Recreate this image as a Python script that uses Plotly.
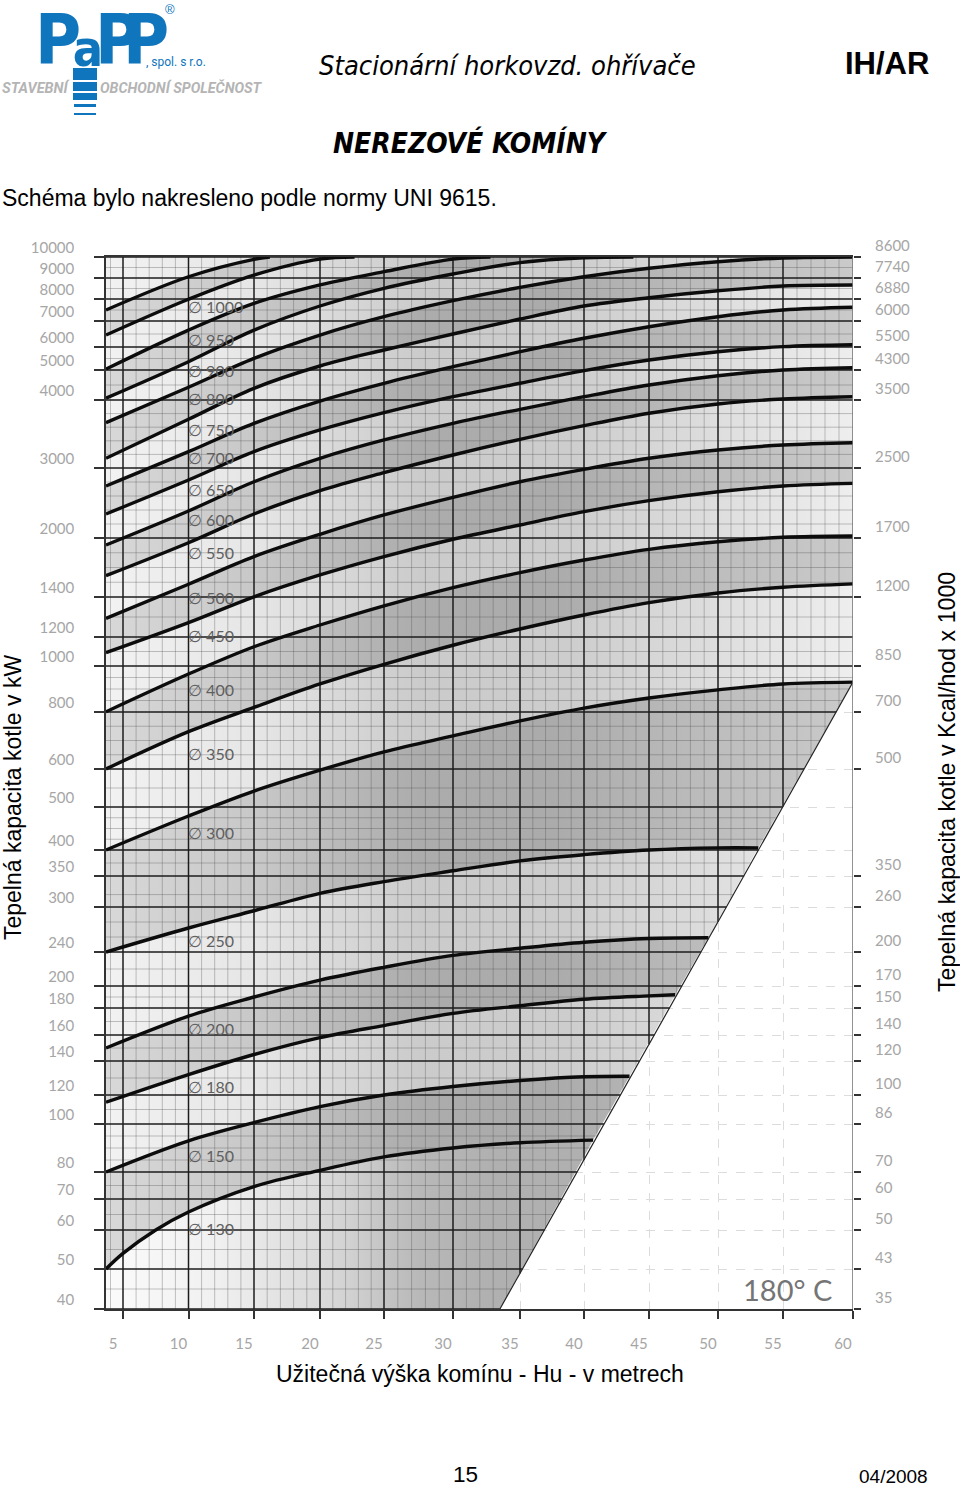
import numpy as np
import plotly.graph_objects as go

# ---------- scales printed on the nomogram ----------
scale_kw = [40, 50, 60, 70, 80, 100, 120, 140, 160, 180, 200, 240, 300, 350, 400, 500, 600, 800,
            1000, 1200, 1400, 2000, 3000, 4000, 5000, 6000, 7000, 8000, 9000, 10000]
# the printed kW ladder is not a uniform log scale: height of every rung on the sheet
scale_height = [0, 40, 79, 110, 137, 185, 214, 248, 274, 301, 323, 357, 402, 433, 459, 502, 540, 597,
                643, 672, 712, 771, 841, 909, 939, 962, 988, 1010, 1031, 1052]
right_equiv_kw = [40, 50, 60, 70, 80, 100, 120, 140, 160, 180, 200, 240, 300, 350, 600, 800, 1000,
                  1400, 2000, 3000, 4000, 5000, 6000, 7000, 8000, 9000, 10000]
right_labels = [35, 43, 50, 60, 70, 86, 100, 120, 140, 150, 170, 200, 260, 350, 500, 700, 850,
                1200, 1700, 2500, 3500, 4300, 5500, 6000, 6880, 7740, 8600]
minor_kw = [45, 55, 65, 75, 85, 90, 95, 110, 130, 150, 170, 190, 220, 260, 280, 320, 375, 425, 450, 475,
            550, 650, 700, 750, 850, 900, 950, 1100, 1300, 1550, 1700, 1850, 2200, 2400, 2600, 2800,
            3200, 3400, 3600, 3800, 4500, 5500, 6500, 7500, 8500, 9500]
x_left = 3.64
x_right = 60
# horizontal ladder of the sheet (metres and width of the rung on the sheet)
scale_m = [x_left, 5, 10, 15, 20, 25, 30, 35, 40, 45, 50, 55, 60]
scale_width = [0, 17, 82.5, 148, 214, 278, 347, 414, 478, 543, 612, 677, 747]
x_ticks = scale_m[1:]

# ---------- curves: height (m) / capacity (kW) ----------
cols = [x_left, 10, 15, 20, 25, 30, 35, 40, 45, 50, 55, 60]
c_top = ([x_left, 10, 15, 16.2], [7500, 9060, 9890, 10000])
c_1000 = ([x_left, 10, 15, 20, 22.7], [6460, 7990, 9140, 9900, 10000])
c_950 = ([x_left, 10, 15, 20, 25, 30, 32.8], [5040, 6650, 7800, 8670, 9300, 9900, 10000])
c_900 = ([x_left, 10, 15, 20, 25, 30, 35, 40, 43.8], [4060, 5360, 6650, 7682, 8510, 9190, 9730, 9960, 10000])
c_800 = (cols, [3666, 4423, 5508, 6461, 7196, 7923, 8557, 9062, 9462, 9776, 9952, 10000])
c_750 = (cols, [3143, 3716, 4390, 5174, 5870, 6500, 7090, 7680, 8060, 8390, 8620, 8670])
c_700 = (cols, [2743, 3240, 3657, 3985, 4557, 5143, 5796, 6335, 6780, 7196, 7500, 7622])
c_650 = (cols, [2343, 2829, 3240, 3559, 3813, 4110, 4557, 4977, 5435, 5796, 6013, 6087])
c_600 = (cols, [1929, 2386, 2804, 3143, 3412, 3657, 3863, 4110, 4500, 4810, 5000, 5100])
c_550 = (cols, [1617, 1952, 2343, 2676, 2933, 3191, 3422, 3622, 3805, 3941, 4033, 4110])
c_500 = (cols, [1293, 1530, 1811, 2053, 2329, 2581, 2804, 2981, 3143, 3265, 3338, 3372])
c_450 = (cols, [1092, 1272, 1402, 1624, 1811, 1987, 2186, 2376, 2533, 2661, 2743, 2781])
c_400 = (cols, [801, 965, 1133, 1260, 1356, 1495, 1648, 1776, 1885, 1962, 2010, 2029])
c_350 = (cols, [600, 731, 820, 922, 1012, 1143, 1240, 1310, 1372, 1441, 1499, 1533])
c_300 = (cols, [400, 479, 542, 597, 660, 716, 769, 817, 861, 896, 922, 930])
c_250 = ([x_left, 10, 15, 20, 25, 30, 35, 40, 45, 50, 53.1], [240, 272, 295, 322, 341, 360, 379, 391, 400, 405, 405])
c_200 = ([x_left, 10, 15, 20, 25, 30, 35, 40, 45, 49.3], [150, 174, 190, 207, 222, 236, 245, 253, 258, 259])
c_180 = ([x_left, 10, 15, 20, 25, 30, 35, 40, 45, 46.9], [115, 132, 145, 158, 167, 176, 182, 188, 191, 192])
c_150 = ([x_left, 10, 15, 20, 25, 30, 35, 40, 43.5], [80, 93, 101, 112, 120, 125, 128.5, 130.7, 131])
c_130 = ([x_left, 5, 7.5, 10, 15, 20, 25, 30, 35, 40.7], [50, 54, 60, 65.8, 74.6, 80.7, 86.3, 90, 92.2, 93.3])
curves = [c_top, c_1000, c_950, c_900, c_800, c_750, c_700, c_650, c_600, c_550, c_500, c_450, c_400,
          c_350, c_300, c_250, c_200, c_180, c_150, c_130]

limit_x = [33.5, 60]
limit_kw = [40, 930]

diameters = [1000, 950, 900, 800, 750, 700, 650, 600, 550, 500, 450, 400, 350, 300, 250, 200, 180, 150, 130]
diameter_label_kw = [7680, 6270, 5000, 4060, 3570, 3150, 2690, 2260, 1850, 1400, 1210, 900, 655, 440, 255,
                     165, 125, 87, 60.6]

# ---------- styles ----------
W, H = 960, 1488
INK = "#1c1c1c"
TICK_GREY = "#a6a6a6"
LABEL_GREY = "#5f5f5f"
SANS = "Liberation Sans"
COND = "DejaVu Sans Condensed, DejaVu Sans"
DARK = [[0, "#d8d8d8"], [0.2, "#c8c8c8"], [0.42, "#acacac"], [0.6, "#ababab"], [0.8, "#bcbcbc"], [1, "#cacaca"]]
LIGHT = [[0, "#f2f2f2"], [0.2, "#e6e6e6"], [0.42, "#cbcbcb"], [0.62, "#cdcdcd"], [0.82, "#dedede"], [1, "#eeeeee"]]
BOTTOM = [[0, "#fbfbfb"], [0.15, "#f0f0f0"], [0.3, "#d8d8d8"], [0.42, "#b8b8b8"], [0.52, "#b0b0b0"], [1, "#b0b0b0"]]


def to_h(kw):
    return np.interp(np.asarray(kw, dtype=float), scale_kw, scale_height)


def to_w(m):
    return np.interp(np.asarray(m, dtype=float), scale_m, scale_width)


lim_h = to_h(limit_kw)
lim_w = to_w(limit_x)
W_LEFT, W_RIGHT = scale_width[0], scale_width[-1]


def limit_w_at(h):
    return float(np.interp(h, lim_h, lim_w))


def limit_h_at(w):
    return float(np.interp(w, lim_w, lim_h))


def extended(c):
    xs, ks = list(c[0]), list(c[1])
    if ks[-1] >= 10000 and xs[-1] < x_right:
        xs.append(x_right)
        ks.append(10000)
    return xs, ks


fig = go.Figure()


def add_band(upper, lower, scale):
    xs = list(upper[0]) + list(lower[0])[::-1]
    ks = list(upper[1]) + list(lower[1])[::-1]
    fig.add_trace(go.Scatter(
        x=to_w(xs), y=to_h(ks), mode="none", fill="toself", hoverinfo="skip",
        fillgradient=dict(type="horizontal", colorscale=scale, start=W_LEFT, stop=W_RIGHT),
    ))


sequence = [([x_left, x_right], [10000, 10000])] + [extended(c) for c in curves] + \
           [([x_left, limit_x[0]], [40, 40])]
for i in range(len(sequence) - 1):
    if i == len(sequence) - 2:
        add_band(sequence[i], sequence[i + 1], BOTTOM)
    else:
        add_band(sequence[i], sequence[i + 1], LIGHT if i % 2 == 0 else DARK)


def grid_trace(h_values, w_values, color, width):
    xs, ys = [], []
    for h in h_values:
        xs += [W_LEFT, limit_w_at(h), None]
        ys += [h, h, None]
    for w in w_values:
        xs += [w, w, None]
        ys += [limit_h_at(w), scale_height[-1], None]
    fig.add_trace(go.Scatter(x=xs, y=ys, mode="lines", hoverinfo="skip",
                             line=dict(color=color, width=width)))


minor_x = [m for m in range(4, 60) if m % 5 != 0]
grid_trace(to_h(minor_kw), to_w(minor_x), "rgba(70,70,70,0.45)", 0.7)
grid_trace(scale_height, to_w(x_ticks[:-1]), INK, 1.5)

for c in curves:
    fig.add_trace(go.Scatter(x=to_w(c[0]), y=to_h(c[1]), mode="lines", hoverinfo="skip",
                             line=dict(color="#0c0c0c", width=3.4, shape="spline", smoothing=1.0)))

fig.add_trace(go.Scatter(x=lim_w, y=lim_h, mode="lines", hoverinfo="skip",
                         line=dict(color="#222222", width=1.2)))
# carries the right-hand axis (Kcal/hod x 1000)
fig.add_trace(go.Scatter(x=[W_RIGHT, W_RIGHT], y=to_h([40, 10000]), yaxis="y2", mode="lines",
                         hoverinfo="skip", line=dict(color="#777777", width=1.6)))

# logo lettering: large glyphs, on a page-wide hidden subplot so that they cannot push the margins
BLUE = "#0f75bc"
logo_letters = ["P", "a", "P", "P"]
logo_x = [58, 88, 118, 146]
logo_y = [46, 53, 46, 46]
logo_size = [70, 50, 70, 70]
fig.add_trace(go.Scatter(x=logo_x, y=logo_y, text=[f"<b>{t}</b>" for t in logo_letters], mode="text",
                         textposition="middle center", cliponaxis=False, xaxis="x2", yaxis="y3", hoverinfo="skip",
                         textfont=dict(family=COND, size=logo_size, color=BLUE)))


def px_x(v):
    return v / W


def px_y(v):
    return 1 - v / H


annotations = []


def page_text(text, x, y, size, family=SANS, color="#000000", xanchor="left", angle=0):
    annotations.append(dict(text=text, x=px_x(x), y=px_y(y), xref="paper", yref="paper", showarrow=False,
                            xanchor=xanchor, yanchor="middle", textangle=angle,
                            font=dict(family=family, size=size, color=color)))


for d, k in zip(diameters, diameter_label_kw):
    annotations.append(dict(text=f"∅ {d}", x=float(to_w(10)) - 3, y=float(to_h(k)), xref="x", yref="y",
                            showarrow=False, xanchor="left", yanchor="middle",
                            font=dict(family="Lato", size=16, color=LABEL_GREY)))
annotations.append(dict(text="180° C", x=W_RIGHT - 19, y=float(to_h(45)), xref="x", yref="y", showarrow=False,
                        xanchor="right", yanchor="middle",
                        font=dict(family="Lato", size=29, color="#757575")))

page_text("®", 170, 9, 13, SANS, BLUE, "center")
page_text(", spol. s r.o.", 144, 62, 12, "Roboto", BLUE)
page_text("<b><i>STAVEBNÍ</i></b>", 0, 88, 14.5, "Roboto", "#b4b4b4")
page_text("<b><i>OBCHODNÍ SPOLEČNOST</i></b>", 98, 88, 14.3, "Roboto", "#b4b4b4")
page_text("<i>Stacionární horkovzd. ohřívače</i>", 317, 65, 27, COND)
page_text("<b>IH/AR</b>", 843, 63, 31)
page_text("<b><i>NEREZOVÉ KOMÍNY</i></b>", 331, 143, 28, COND)
page_text("Schéma bylo nakresleno podle normy UNI 9615.", 0, 198, 23)
page_text("Tepelná kapacita kotle v kW", 13, 798, 23, xanchor="center", angle=-90)
page_text("Tepelná kapacita kotle v Kcal/hod x 1000", 947, 782, 23.2, xanchor="center", angle=-90)
page_text("Užitečná výška komínu - Hu - v metrech", 480, 1374, 23, xanchor="center")
page_text("15", 465, 1474, 22.5, xanchor="center")
page_text("04/2008", 893, 1476, 19, xanchor="center")

shapes = []
for top, bottom, left, right in [(68, 80, 73, 97), (82, 91, 73, 97), (93, 100, 73, 97),
                                 (104, 107, 74, 96), (113, 115, 74, 96)]:
    shapes.append(dict(type="rect", xref="paper", yref="paper", x0=px_x(left), x1=px_x(right),
                       y0=px_y(bottom), y1=px_y(top), line=dict(width=0), fillcolor=BLUE))

tick_font = dict(family="Lato", size=15, color=TICK_GREY)
y_domain = [1 - 1309 / H, 1 - 257 / H]

fig.update_layout(
    template="none", width=W, height=H, autosize=False, showlegend=False,
    margin=dict(l=0, r=0, t=0, b=0, pad=0, autoexpand=False),
    paper_bgcolor="white", plot_bgcolor="rgba(0,0,0,0)",
    annotations=annotations, shapes=shapes,
    xaxis=dict(automargin=False, domain=[106 / W, 853 / W], range=[W_LEFT, W_RIGHT], tickmode="array",
               tickvals=to_w(x_ticks).tolist(),
               ticktext=[str(v) for v in x_ticks], ticks="outside", ticklen=8, tickwidth=1.5, tickcolor="#333333",
               ticklabelstandoff=12, ticklabelshift=-10, tickfont=tick_font, showline=True, mirror=True,
               linecolor="#333333", linewidth=1.5, showgrid=True, gridcolor="#dcdcdc", griddash="dash",
               gridwidth=1, zeroline=False),
    yaxis=dict(automargin=False, domain=y_domain, range=[scale_height[0], scale_height[-1]], tickmode="array",
               tickvals=scale_height, ticktext=[str(v) for v in scale_kw], ticks="outside", ticklen=10,
               tickwidth=1.5, tickcolor="#333333", ticklabelstandoff=17, ticklabelshift=-9, tickfont=tick_font,
               showline=True, linecolor="#333333", linewidth=1.5, showgrid=True, gridcolor="#dcdcdc",
               griddash="dash", gridwidth=1, zeroline=False),
    yaxis2=dict(automargin=False, domain=y_domain, range=[scale_height[0], scale_height[-1]], overlaying="y",
                side="right", anchor="x", tickmode="array", tickvals=to_h(right_equiv_kw).tolist(),
                ticktext=[str(v) for v in right_labels], ticks="outside", ticklen=7, tickwidth=1.5,
                tickcolor="#333333", ticklabelstandoff=11, ticklabelshift=-11, tickfont=tick_font,
                showline=False, showgrid=False, zeroline=False),
    xaxis2=dict(automargin=False, domain=[0, 1], range=[0, W], visible=False, anchor="y3"),
    yaxis3=dict(automargin=False, domain=[0, 1], range=[H, 0], visible=False, anchor="x2"),
)

fig.write_html("out.html", post_script="document.body.style.margin='0';",
               config=dict(displayModeBar=False))
